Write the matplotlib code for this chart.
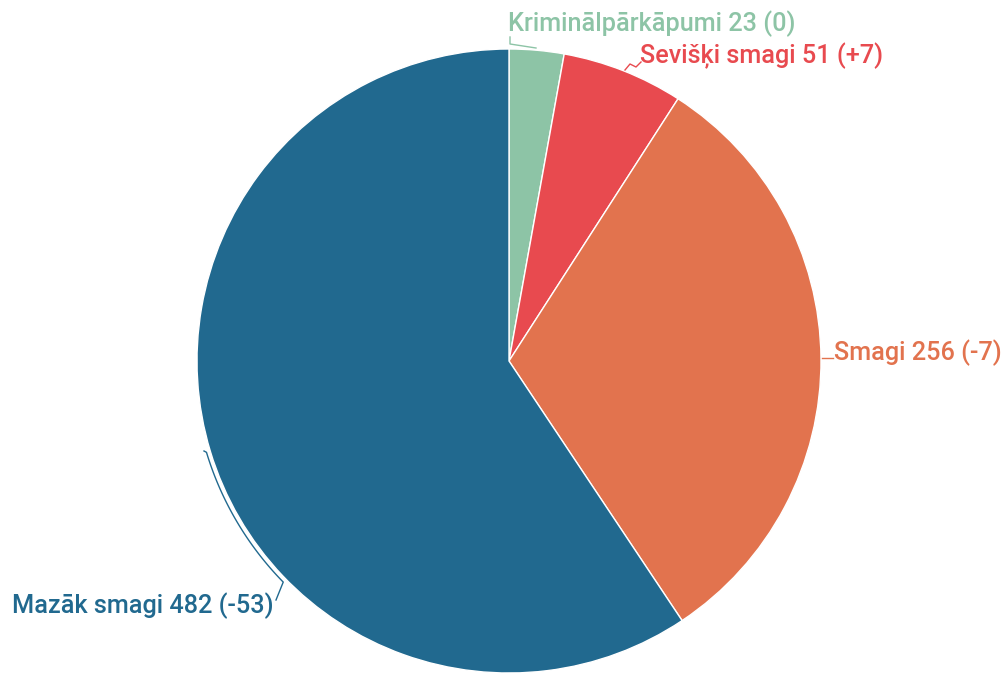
import numpy as np
import matplotlib
matplotlib.use("Agg")
import matplotlib.pyplot as plt

# slices, clockwise from the top
categories = ['Kriminālpārkāpumi', 'Sevišķi smagi', 'Smagi', 'Mazāk smagi']
counts = [23, 51, 256, 482]
changes = ['0', '+7', '-7', '-53']
colors = ['#8dc4a6', '#e84a4f', '#e2734e', '#21698f']

W, H = 1008, 673
fig = plt.figure(figsize=(W / 100, H / 100), dpi=100)
ax = fig.add_axes([0, 0, 1, 1])

cx, cy, r = 509, H - 361, 312
ax.pie(counts, colors=colors, startangle=90, counterclock=False,
       center=(cx, cy), radius=r, frame=True,
       wedgeprops=dict(edgecolor='white', linewidth=1))
ax.set_xlim(0, W)
ax.set_ylim(0, H)
ax.set_aspect('equal')
ax.axis('off')

font = dict(family=['Roboto', 'DejaVu Sans'], fontsize=18.2, fontweight='medium', va='center')

# label positions (image pixel coords, top-left origin)
label_pos = [(508, 24), (640, 56), (834, 353), (12, 606)]
for name, n, d, col, (lx, ly) in zip(categories, counts, changes, colors, label_pos):
    ax.text(lx, H - ly, f'{name} {n} ({d})', color=col, **font)

# leader lines
def leader(pts, col):
    xs = [p[0] for p in pts]
    ys = [H - p[1] for p in pts]
    ax.plot(xs, ys, color=col, lw=1)

leader([(536, 48), (510, 44), (510, 37)], colors[0])
leader([(625, 70), (630, 64), (636, 67), (641, 62)], colors[1])
leader([(822, 358), (833, 358)], colors[2])
ang = np.radians(np.linspace(196.8, 224.4, 60))
arc = [(204, 451)] + [(cx + 316 * np.cos(a), 361 - 316 * np.sin(a)) for a in ang] + [(276, 600)]
leader(arc, colors[3])

fig.savefig('out.png', dpi=100, facecolor='white')
